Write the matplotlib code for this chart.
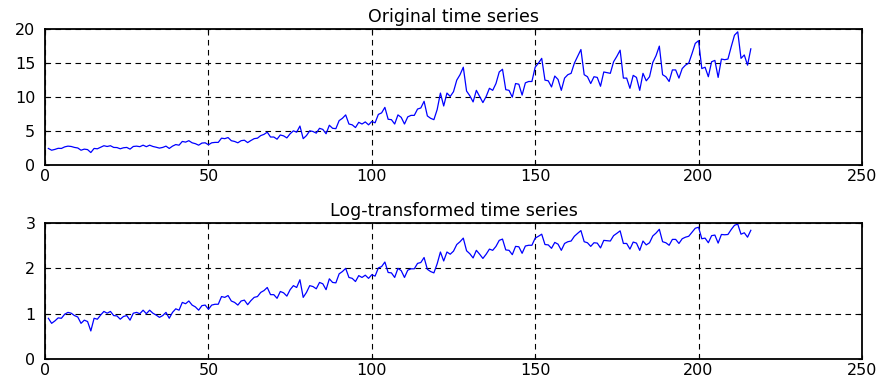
import numpy as np
import matplotlib
matplotlib.use('Agg')
import matplotlib.pyplot as plt

# monthly series (t = 1..216)
series = [
    2.46, 2.20, 2.32, 2.48, 2.46, 2.69, 2.80, 2.75, 2.61, 2.53,
    2.20, 2.36, 2.29, 1.86, 2.46, 2.41, 2.64, 2.86, 2.75, 2.86,
    2.61, 2.59, 2.41, 2.56, 2.61, 2.36, 2.75, 2.80, 2.72, 2.94,
    2.72, 2.94, 2.75, 2.64, 2.51, 2.61, 2.80, 2.46, 2.80, 3.03,
    2.94, 3.49, 3.39, 3.60, 3.29, 3.16, 2.94, 3.25, 3.29, 3.00,
    3.29, 3.35, 3.35, 3.97, 3.90, 4.06, 3.60, 3.49, 3.29, 3.60,
    3.67, 3.32, 3.63, 3.90, 3.97, 4.35, 4.53, 4.85, 4.14, 4.14,
    3.82, 4.44, 4.31, 4.01, 4.62, 5.05, 4.85, 5.75, 3.90, 4.35,
    5.05, 4.95, 4.71, 5.42, 5.26, 4.62, 5.87, 5.42, 5.37, 6.55,
    6.89, 7.39, 6.05, 5.93, 5.53, 6.30, 6.05, 6.36, 5.93, 6.42,
    6.23, 7.46, 7.69, 8.50, 6.75, 6.69, 6.05, 7.39, 7.03, 6.05,
    7.10, 7.32, 7.32, 8.25, 8.41, 9.39, 7.24, 6.89, 6.69, 8.17,
    10.6, 8.7, 10.6, 10.1, 10.8, 12.5, 13.3, 14.4, 10.9, 10.2,
    9.3, 11.0, 10.1, 9.2, 10.1, 11.3, 11.0, 12.0, 13.7, 14.1,
    11.1, 11.0, 10.0, 12.0, 11.9, 10.3, 12.1, 12.3, 12.3, 14.4,
    15.0, 15.7, 12.5, 12.4, 11.5, 13.1, 12.6, 11.0, 12.8, 13.3,
    13.5, 15.0, 16.0, 17.0, 13.3, 13.0, 12.0, 13.0, 12.9, 11.6,
    13.7, 13.6, 13.5, 15.2, 16.0, 16.9, 12.8, 12.8, 11.3, 13.2,
    12.9, 11.0, 13.5, 12.4, 13.0, 15.1, 16.1, 17.5, 13.3, 13.0,
    12.3, 14.0, 14.0, 12.8, 14.2, 14.7, 15.0, 16.4, 17.9, 18.3,
    14.2, 14.4, 13.0, 15.2, 15.4, 12.9, 15.6, 15.5, 15.6, 17.4,
    19.1, 19.6, 15.7, 16.2, 14.7, 17.1,
]
t = np.arange(1, len(series) + 1)
log_series = np.log(series)

xticks = [0, 50, 100, 150, 200, 250]
yticks_top = [0, 5, 10, 15, 20]
yticks_bot = [0, 1, 2, 3]

plt.rcParams['font.family'] = 'DejaVu Sans'

fig = plt.figure(figsize=(8.84, 3.78), dpi=100)
ax1 = fig.add_axes([0.051, 0.563, 0.924, 0.360])
ax2 = fig.add_axes([0.051, 0.050, 0.924, 0.360])

panels = [
    (ax1, series, yticks_top, 'Original time series'),
    (ax2, log_series, yticks_bot, 'Log-transformed time series'),
]

for ax, y, yt, title in panels:
    ax.plot(t, y, color='#0000ff', linewidth=0.9)
    ax.set_xlim(0, 250)
    ax.set_ylim(yt[0], yt[-1])
    ax.set_xticks(xticks)
    ax.set_yticks(yt)
    ax.grid(True, color='k', linestyle=(0, (5, 4)), linewidth=0.8)
    ax.tick_params(direction='in', top=True, right=True, length=3,
                   labelsize=11.5)
    ax.tick_params(axis='x', pad=3)
    ax.tick_params(axis='y', pad=7)
    for sp in ax.spines.values():
        sp.set_linewidth(1.3)
    ax.set_title(title, fontsize=12.5, pad=5)

fig.savefig('out.png', dpi=100)
